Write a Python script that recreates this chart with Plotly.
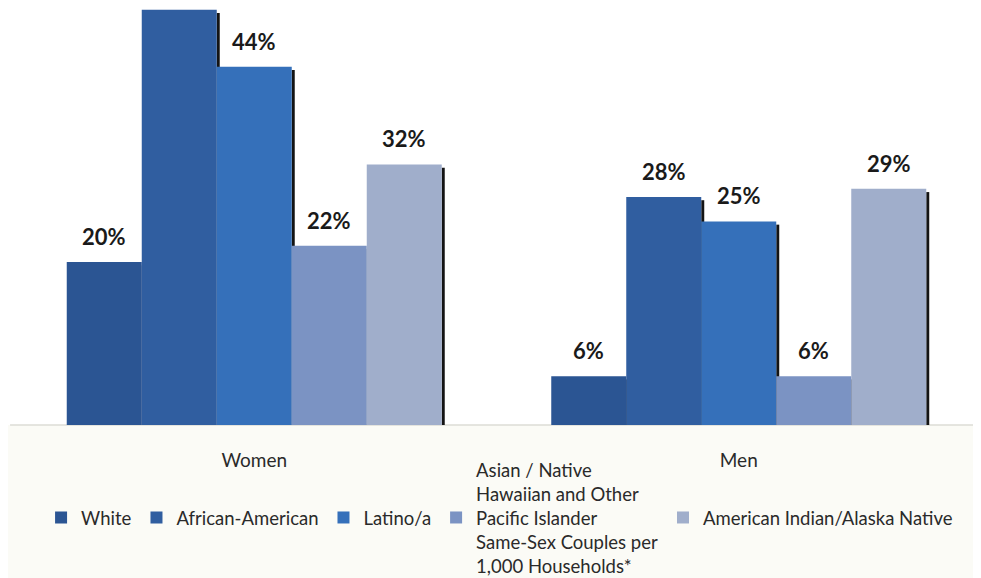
import plotly.graph_objects as go

categories = ["Women", "Men"]
series_names = [
    "White",
    "African-American",
    "Latino/a",
    "Asian / Native<br>Hawaiian and Other<br>Pacific Islander<br>Same-Sex Couples per<br>1,000 Households*",
    "American Indian/Alaska Native",
]
white = [20, 6]
african_american = [51, 28]
latino = [44, 25]
asian_pi = [22, 6]
american_indian = [32, 29]
series_values = [white, african_american, latino, asian_pi, american_indian]
colors = ["#2b5593", "#305ea0", "#3570ba", "#7b93c3", "#a0aecb"]

FONT = "Lato, Carlito, Calibri, sans-serif"
BARGAP = 0.226
Y_MAX = 51.2
n = len(series_values)
bw = (1 - BARGAP) / n
max_lines = max(s.count("<br>") for s in series_names) + 1


def pad_name(s):
    # vertically centre single-line legend entries against the 5-line entry
    extra = max_lines - (s.count("<br>") + 1)
    top = extra // 2
    bot = extra - top
    return "&#160;<br>" * top + s + "<br>&#160;" * bot


fig = go.Figure()
for name, vals, col in zip(series_names, series_values, colors):
    fig.add_trace(go.Bar(
        x=categories, y=vals, name=pad_name(name),
        marker=dict(color=col, line=dict(width=0)),
        hoverinfo="skip",
    ))

shapes = []
annotations = []
shapes.append(dict(type="rect", xref="paper", yref="paper", x0=-0.05, x1=1.05,
                   y0=-0.5, y1=0, fillcolor="#fbfbf6", line=dict(width=0), layer="below"))
shapes.append(dict(type="line", xref="paper", yref="paper", x0=-0.002, x1=1,
                   y0=0, y1=0, line=dict(color="#dcdcd6", width=1.5), layer="below"))
px = 1.0 / 484.5
for ci, cat in enumerate(categories):
    for si, vals in enumerate(series_values):
        v = vals[ci]
        left = ci - (1 - BARGAP) / 2 + si * bw
        center = left + bw / 2
        right = left + bw
        shapes.append(dict(type="line", xref="x", yref="y",
                           x0=right + 1.5 * px, x1=right + 1.5 * px, y0=0, y1=v - 0.4,
                           line=dict(color="#141414", width=3), layer="below"))
        if v < Y_MAX - 4:
            annotations.append(dict(x=center, y=v, xref="x", yref="y", text=f"<b>{v}%</b>",
                                    showarrow=False, yanchor="bottom", yshift=10,
                                    font=dict(family=FONT, size=22, color="#1a1a1a")))

fig.update_layout(
    width=973, height=570,
    margin=dict(l=4, r=0, t=0, b=153, autoexpand=False),
    paper_bgcolor="white", plot_bgcolor="rgba(0,0,0,0)",
    barmode="group", bargap=BARGAP, bargroupgap=0,
    font=dict(family=FONT, size=19, color="#2a2a2a"),
    xaxis=dict(range=[-0.5, 1.5], showgrid=False, zeroline=False, showline=False,
               ticks="", ticklabelstandoff=22, tickfont=dict(size=19, color="#2a2a2a"),
               fixedrange=True),
    yaxis=dict(range=[0, Y_MAX], visible=False, fixedrange=True),
    showlegend=True,
    legend=dict(orientation="h", x=0.03, xanchor="left", y=-0.062, yanchor="top",
                font=dict(size=18.5, color="#2a2a2a"), valign="middle",
                bgcolor="rgba(0,0,0,0)", traceorder="normal"),
    shapes=shapes, annotations=annotations,
)

fig.write_html("out.html")
